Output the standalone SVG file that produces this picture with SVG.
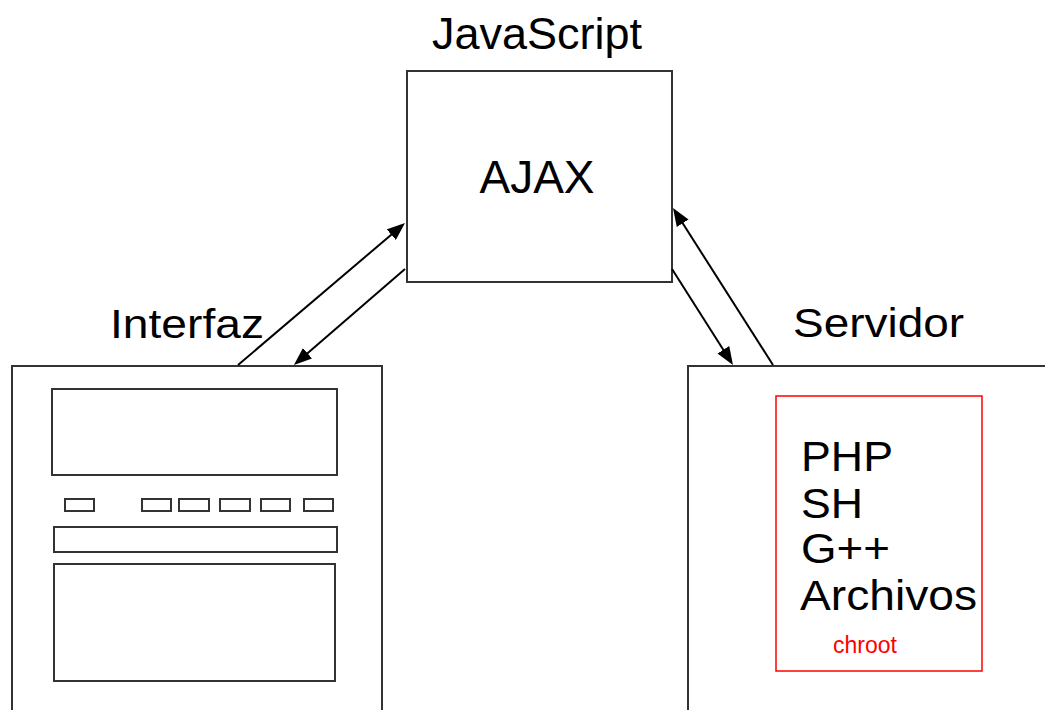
<svg xmlns="http://www.w3.org/2000/svg" width="1045" height="710" viewBox="0 0 1045 710">
  <style>
    .box { fill: #fff; stroke: #333; stroke-width: 2; }
    .part { fill: none; stroke: #333; stroke-width: 2; }
    .label { font-family: "Liberation Sans", Arial, sans-serif; fill: #000; }
    .chroot { fill: none; stroke: #f00; stroke-width: 1.5; }
    .link { stroke: #000; stroke-width: 2; fill: none; marker-end: url(#head); }
  </style>
  <defs>
    <marker id="head" markerUnits="userSpaceOnUse" markerWidth="18" markerHeight="14" refX="10" refY="7" orient="auto">
      <path d="M0,0 L18,7 L0,14 z" fill="#000"/>
    </marker>
  </defs>
  <rect width="1045" height="710" fill="#fff"/>

  <!-- AJAX module -->
  <g id="ajax">
    <text class="label" x="537" y="49" font-size="45" text-anchor="middle">JavaScript</text>
    <rect class="box" x="407" y="71" width="265" height="211"/>
    <text class="label" x="537" y="193" font-size="46" text-anchor="middle">AJAX</text>
  </g>

  <!-- client interface mock-up -->
  <g id="interfaz">
    <text class="label" x="110" y="338" font-size="41" textLength="154" lengthAdjust="spacingAndGlyphs">Interfaz</text>
    <rect class="box" x="12" y="366" width="370" height="360"/>
    <rect class="part" x="52" y="389" width="285" height="86"/>
    <rect class="part" x="65" y="499" width="29" height="12"/>
    <rect class="part" x="142" y="499" width="29" height="12"/>
    <rect class="part" x="179" y="499" width="30" height="12"/>
    <rect class="part" x="220" y="499" width="30" height="12"/>
    <rect class="part" x="261" y="499" width="29" height="12"/>
    <rect class="part" x="304" y="499" width="29" height="12"/>
    <rect class="part" x="54" y="527" width="283" height="25"/>
    <rect class="part" x="54" y="564" width="281" height="117"/>
  </g>

  <!-- server side -->
  <g id="servidor">
    <text class="label" x="793" y="337" font-size="41" textLength="171" lengthAdjust="spacingAndGlyphs">Servidor</text>
    <rect class="box" x="688" y="366" width="400" height="360"/>
    <rect class="chroot" x="776" y="396" width="206" height="275"/>
    <text class="label" x="801" y="471" font-size="43" textLength="92" lengthAdjust="spacingAndGlyphs">PHP</text>
    <text class="label" x="801" y="518" font-size="43" textLength="62" lengthAdjust="spacingAndGlyphs">SH</text>
    <text class="label" x="801" y="563" font-size="43" textLength="89" lengthAdjust="spacingAndGlyphs">G++</text>
    <text class="label" x="800" y="610" font-size="43" textLength="177" lengthAdjust="spacingAndGlyphs">Archivos</text>
    <text class="label" x="833" y="653" font-size="23" style="fill:#f00">chroot</text>
  </g>

  <!-- request / response arrows -->
  <g id="connectors">
    <line class="link" x1="238" y1="365" x2="398.9" y2="228.2"/>
    <line class="link" x1="405" y1="269" x2="300" y2="359.8"/>
    <line class="link" x1="773" y1="365" x2="677.3" y2="214.8"/>
    <line class="link" x1="672" y1="269" x2="728.7" y2="358.2"/>
  </g>
</svg>
